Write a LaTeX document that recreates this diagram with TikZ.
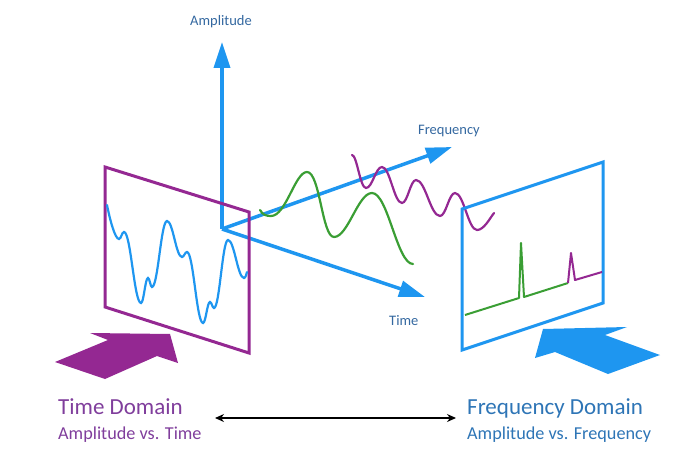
\documentclass[tikz,border=0pt]{standalone}
\usepackage{fontspec}
\setmainfont{Carlito}
\usetikzlibrary{arrows.meta}
\definecolor{axisblue}{RGB}{30,150,240}
\definecolor{domainpurple}{RGB}{148,40,146}
\definecolor{wavegreen}{RGB}{58,158,52}
\definecolor{labelblue}{RGB}{52,104,160}
\definecolor{timetext}{RGB}{128,62,156}
\definecolor{freqtext}{RGB}{46,117,182}

\begin{document}
\begin{tikzpicture}[x=1pt,y=-1pt,
    axisline/.style={axisblue,line width=3.5pt,-{Triangle[length=26pt,width=16pt]}},
    domframe/.style={line width=3pt,line join=miter},
    wave/.style={line width=2.2pt,line cap=round},
    spectrum/.style={line width=2pt,line join=round},
    axlabel/.style={labelblue,anchor=base west,inner sep=0pt,font=\fontsize{14.5}{17}\selectfont},
    domtitle/.style={anchor=base west,inner sep=0pt,font=\fontsize{23}{28}\selectfont},
    domsub/.style={anchor=base west,inner sep=0pt,font=\fontsize{18.2}{22}\selectfont}]
    \useasboundingbox (0,0) rectangle (691,460);

    \coordinate (origin) at (222,229);
    \coordinate (ampTip) at (222,42);
    \coordinate (freqTip) at (452,147);
    \coordinate (timeTip) at (425,297);

    \draw[axisline] (origin) -- (ampTip);
    \draw[axisline] (origin) -- (freqTip);
    \draw[axisline] (origin) -- (timeTip);

    \node[axlabel] (ampLabel) at (190,26) {Amplitude};
    \node[axlabel] (freqLabel) at (418,134) {Frequency};
    \node[axlabel] (timeLabel) at (389,325) {Time};

    \draw[wave,wavegreen] (260,210) .. controls (263,215) and (266,216) .. (271,216)
        .. controls (286,216) and (295,172) .. (307,172)
        .. controls (320,172) and (322,237) .. (334,237)
        .. controls (348,237) and (358,193) .. (372,193)
        .. controls (388,193) and (397,264) .. (413,264);

    \draw[wave,domainpurple] (352,155) .. controls (357,155) and (360,188) .. (366,188)
        .. controls (372.4,188) and (375.6,167) .. (382,167)
        .. controls (390,167) and (394,203) .. (402,203)
        .. controls (407.6,203) and (410.4,180) .. (416,180)
        .. controls (425.6,180) and (430.4,216) .. (440,216)
        .. controls (446,216) and (449,193) .. (455,193)
        .. controls (463.8,193) and (468.2,230) .. (477,230)
        .. controls (484,230) and (490,218) .. (494,213);

    \draw[domframe,domainpurple] (105,167) -- (249,212) -- (249,353) -- (105,307) -- cycle;
    \draw[domframe,axisblue] (462,209) -- (603,162) -- (603,303) -- (462,350) -- cycle;

    \draw[wave,axisblue] (107,205) .. controls (110,220) and (115,239) .. (119,239)
        .. controls (121,239) and (122,232) .. (124,232)
        .. controls (130.8,232) and (134.2,303) .. (141,303)
        .. controls (143.8,303) and (145.2,278) .. (148,278)
        .. controls (149.6,278) and (150.4,287) .. (152,287)
        .. controls (158,287) and (161,221) .. (167,221)
        .. controls (173,221) and (176,257) .. (182,257)
        .. controls (184,257) and (185,252) .. (187,252)
        .. controls (193.4,252) and (196.6,323) .. (203,323)
        .. controls (205.8,323) and (207.2,302) .. (210,302)
        .. controls (211.6,302) and (212.4,308) .. (214,308)
        .. controls (219.6,308) and (222.4,240) .. (228,240)
        .. controls (234.4,240) and (237.6,278) .. (244,278)
        .. controls (245.5,278) and (246.5,274) .. (247,272);

    \draw[spectrum,wavegreen] (465,315) -- (519,298) -- (521,243) -- (524,297) -- (568,283);
    \draw[spectrum,domainpurple] (568,283) -- (571,253) -- (575,280) -- (602,272);

    \fill[domainpurple] (55,362) -- (108,340) -- (90,333) -- (170,334) -- (178,363)
        -- (157,356) -- (105,379) -- cycle;
    \fill[axisblue] (543,329) -- (627,327) -- (605,335) -- (660,355) -- (608,374)
        -- (555,352) -- (535,358) -- cycle;

    \node[domtitle,timetext] (timeDomain) at (58,414) {Time Domain};
    \node[domsub,timetext] (timeSub) at (58,439) {Amplitude vs. Time};
    \node[domtitle,freqtext] (freqDomain) at (467,414) {Frequency Domain};
    \node[domsub,freqtext] (freqSub) at (467,439) {Amplitude vs. Frequency};

    \coordinate (leftEnd) at (215,418);
    \coordinate (rightEnd) at (456,418);
    \draw[line width=1.3pt,{Stealth[length=9pt,width=8pt]}-{Stealth[length=9pt,width=8pt]}] (leftEnd) -- (rightEnd);
\end{tikzpicture}
\end{document}
